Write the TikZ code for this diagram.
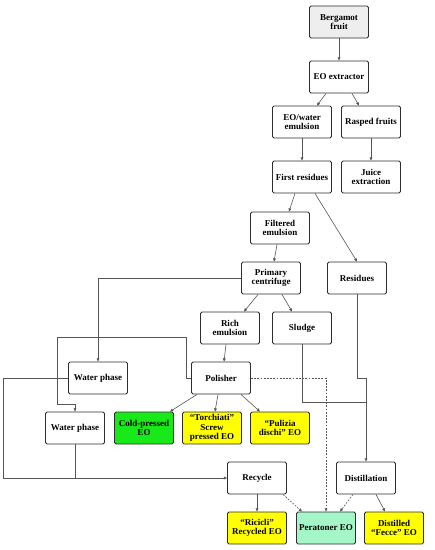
\documentclass[tikz,border=0pt]{standalone}
\usepackage{fontspec}
\setmainfont{Liberation Serif}
\usetikzlibrary{arrows.meta,positioning,calc}
\definecolor{boxLine}{RGB}{45,45,45}
\definecolor{wireGray}{RGB}{85,85,85}
\definecolor{fruitGray}{RGB}{238,238,238}
\definecolor{coldGreen}{RGB}{25,232,25}
\definecolor{oilYellow}{RGB}{255,255,0}
\definecolor{mintGreen}{RGB}{164,246,200}
\tikzset{
  stage node/.style={draw=boxLine,fill=white,rounded corners=1.5pt,line width=0.9pt,align=center,font=\fontsize{9}{9.4}\selectfont\bfseries,minimum width=59pt,minimum height=32pt,inner sep=1pt},
  stage node gray/.style={stage node,fill=fruitGray},
  stage node green/.style={stage node,fill=coldGreen},
  stage node yellow/.style={stage node,fill=oilYellow},
  stage node mint/.style={stage node,fill=mintGreen},
  stage arrow/.style={-{Triangle[length=3.2pt,width=2.8pt]},line width=0.6pt,draw=wireGray},
  stage line/.style={line width=0.6pt,draw=wireGray},
  stage arrow dashed/.style={stage arrow,dash pattern=on 1.8pt off 1.4pt}
}
\begin{document}
\begin{tikzpicture}[x=1pt,y=-1pt]
        \useasboundingbox (0,0) rectangle (435,550);
        % nodes
        \node[stage node gray] (fruit) at (339,22) {Bergamot\\fruit};
        \node[stage node] (extractor) at (339,77) {EO extractor};
        \node[stage node] (emulsion) at (302,122) {EO/water\\emulsion};
        \node[stage node] (rasped) at (371,122) {Rasped fruits};
        \node[stage node] (firstres) at (302,177) {First residues};
        \node[stage node] (juice) at (371,177) {Juice\\extraction};
        \node[stage node] (filtered) at (280,228) {Filtered\\emulsion};
        \node[stage node] (primary) at (271,278) {Primary\\centrifuge};
        \node[stage node] (residues) at (357,278) {Residues};
        \node[stage node] (rich) at (230,328) {Rich\\emulsion};
        \node[stage node] (sludge) at (302,328) {Sludge};
        \node[stage node] (polisher) at (221,378) {Polisher};
        \node[stage node] (waterA) at (98,378) {Water phase};
        \node[stage node] (waterB) at (75,428) {Water phase};
        \node[stage node green] (cold) at (144,428) {Cold-pressed\\EO};
        \node[stage node yellow] (torchiati) at (212,428) {“Torchiati”\\Screw\\pressed EO};
        \node[stage node yellow] (pulizia) at (280,428) {“Pulizia\\dischi” EO};
        \node[stage node] (recycle) at (257,478) {Recycle};
        \node[stage node] (distill) at (366,478) {Distillation};
        \node[stage node yellow] (ricicli) at (257,528) {“Ricicli”\\Recycled EO};
        \node[stage node mint] (peratoner) at (326,528) {Peratoner EO};
        \node[stage node yellow] (fecce) at (394,528) {Distilled\\“Fecce” EO};
        % connectors
        \draw[stage arrow] (fruit) -- (extractor);
        \draw[stage arrow] ([xshift=-13pt]extractor.south) -- ([xshift=15pt]emulsion.north);
        \draw[stage arrow] ([xshift=13pt]extractor.south) -- ([xshift=-12pt]rasped.north);
        \draw[stage arrow] (emulsion) -- (firstres);
        \draw[stage arrow] (rasped) -- (juice);
        \draw[stage arrow] ([xshift=-7pt]firstres.south) -- ([xshift=9pt]filtered.north);
        \draw[stage arrow] ([xshift=13pt]firstres.south) -- (residues.north);
        \draw[stage arrow] ([xshift=-3pt]filtered.south) -- ([xshift=3pt]primary.north);
        \draw[stage arrow] ([xshift=-13pt]primary.south) -- ([xshift=14pt]rich.north);
        \draw[stage arrow] ([xshift=11pt]primary.south) -- ([xshift=-10pt]sludge.north);
        \draw[stage arrow] ([xshift=-4pt]rich.south) -- ([xshift=3pt]polisher.north);
        \draw[stage arrow] (primary.west) -| (waterA.north);
        \draw[stage arrow] (polisher.west) -- ++(-5,0) -- ++(0,-41) -- ++(-129,0) -- ++(0,67) -| (waterB.north);
        \draw[stage arrow] (waterA.west) -- ++(-65,0) |- (recycle.west);
        \draw[stage line] (waterB.south) -- (waterB.south |- recycle.west);
        \draw[stage arrow] (residues.south) -- ++(0,84) -| (distill.north);
        \draw[stage line] (sludge.south) -- ++(0,58) -- ++(64,0);
        \draw[stage arrow dashed] (polisher.east) -| (peratoner.north);
        \draw[stage arrow] ([xshift=-24pt]polisher.south) -- ([xshift=26pt]cold.north);
        \draw[stage arrow] ([xshift=-3pt]polisher.south) -- ([xshift=3pt]torchiati.north);
        \draw[stage arrow] ([xshift=20pt]polisher.south) -- ([xshift=-20pt]pulizia.north);
        \draw[stage arrow] (recycle) -- (ricicli);
        \draw[stage arrow dashed] ([xshift=26pt]recycle.south) -- ([xshift=-24pt]peratoner.north);
        \draw[stage arrow dashed] ([xshift=-13pt]distill.south) -- ([xshift=14pt]peratoner.north);
        \draw[stage arrow] ([xshift=10pt]distill.south) -- ([xshift=-9pt]fecce.north);
      \end{tikzpicture}
\end{document}
